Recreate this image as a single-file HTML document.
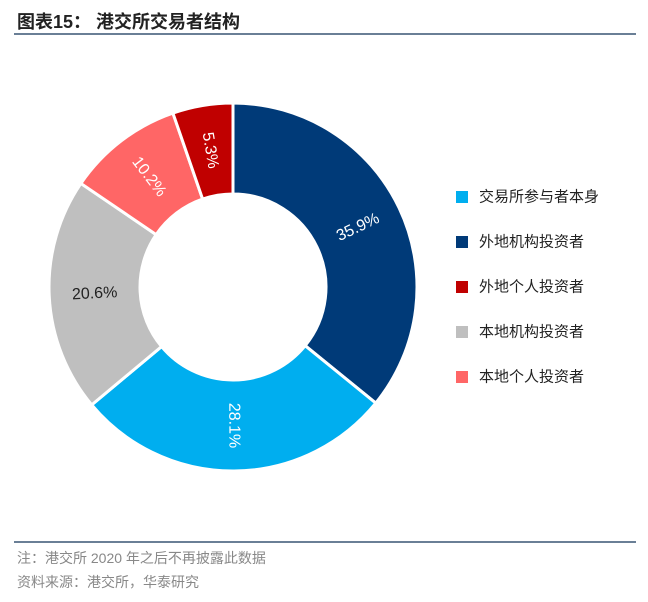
<!DOCTYPE html>
<html><head><meta charset="utf-8"><style>
body{margin:0;width:648px;height:602px;background:#fff;overflow:hidden;position:relative;font-family:"Liberation Sans","Noto Sans CJK SC",sans-serif}
.t{position:absolute;white-space:nowrap}
</style></head><body>
<div class="t" style="left:17px;top:8px;font-size:18px;font-weight:bold;color:#222">图表15：&nbsp;港交所交易者结构</div>
<div style="position:absolute;left:14px;top:33px;width:622px;height:2px;background:#6a7f96"></div>
<svg id="chart" width="648" height="602" style="position:absolute;left:0;top:0"></svg>
<div style="position:absolute;left:14px;top:541px;width:622px;height:2px;background:#6a7f96"></div>
<div class="t" style="left:17px;top:548px;font-size:14px;color:#888">注：港交所 2020 年之后不再披露此数据</div>
<div class="t" style="left:17px;top:572px;font-size:14px;color:#888">资料来源：港交所，华泰研究</div>
<script>
const categories=["交易所参与者本身","外地机构投资者","外地个人投资者","本地机构投资者","本地个人投资者"];
const values=[28.1,35.9,5.3,20.6,10.2];
const drawOrder=[1,0,3,4,2];
const colors=["#00AEEF","#003A78","#C00000","#BFBFBF","#FF6666"];
const textColors=["#fff","#fff","#fff","#222","#fff"];
const svg=document.getElementById('chart');
const NS="http://www.w3.org/2000/svg";
const cx=233,cy=287,R=184,r=93;
const total=values.reduce((a,b)=>a+b,0);
function pt(rad,a){const t=a*Math.PI/180;return [cx+rad*Math.sin(t),cy-rad*Math.cos(t)];}
let acc=0;
drawOrder.forEach(i=>{
  const a0=acc/total*360,a1=(acc+values[i])/total*360;acc+=values[i];
  const lg=(a1-a0)>180?1:0;
  const p1=pt(R,a0),p2=pt(R,a1),p3=pt(r,a1),p4=pt(r,a0);
  const p=document.createElementNS(NS,'path');
  p.setAttribute('d',`M${p1}A${R},${R} 0 ${lg} 1 ${p2}L${p3}A${r},${r} 0 ${lg} 0 ${p4}Z`);
  p.setAttribute('fill',colors[i]);p.setAttribute('stroke','#fff');p.setAttribute('stroke-width','3');
  
  
  svg.appendChild(p);
  const mid=(a0+a1)/2;const [lx,ly]=pt((R+r)/2,mid);
  let rot=mid-270;while(rot<=-90)rot+=180;while(rot>90)rot-=180;
  const tx=document.createElementNS(NS,'text');
  tx.setAttribute('x',lx);tx.setAttribute('y',ly);
  tx.setAttribute('text-anchor','middle');tx.setAttribute('dominant-baseline','central');
  tx.setAttribute('font-size','16');tx.setAttribute('fill',textColors[i]);
  tx.setAttribute('font-family','Liberation Sans, sans-serif');
  tx.setAttribute('transform',`rotate(${rot} ${lx} ${ly})`);
  tx.textContent=values[i].toFixed(1)+'%';
  
  
  svg.appendChild(tx);
});
categories.forEach((c,i)=>{
  const y=197+i*45;
  const s=document.createElementNS(NS,'rect');
  s.setAttribute('x',456);s.setAttribute('y',y-6);s.setAttribute('width',12);s.setAttribute('height',12);s.setAttribute('fill',colors[i]);
  
  
  svg.appendChild(s);
  const t=document.createElementNS(NS,'text');
  t.setAttribute('x',479);t.setAttribute('y',y);t.setAttribute('dominant-baseline','central');
  t.setAttribute('font-size','15');t.setAttribute('fill','#222');
  t.setAttribute('font-family','Liberation Sans, Noto Sans CJK SC, sans-serif');
  t.textContent=c;
  
  
  svg.appendChild(t);
});
</script>
</body></html>
